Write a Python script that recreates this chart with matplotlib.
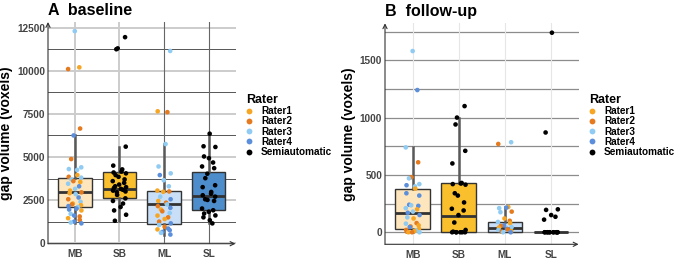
import numpy as np
import matplotlib
matplotlib.use("Agg")
import matplotlib.pyplot as plt
from matplotlib.lines import Line2D

plt.rcParams['font.family'] = ['Liberation Sans', 'DejaVu Sans']
plt.rcParams['font.weight'] = 'bold'

# ---- data ----
categories = ['MB', 'SB', 'ML', 'SL']
rater_names = ['Rater1', 'Rater2', 'Rater3', 'Rater4', 'Semiautomatic']
rater_colors = ['#F6A623', '#E57A1E', '#8FCBF2', '#5B8EDB', '#000000']

# baseline: values and rater index (0-3 raters, 4 semiautomatic)
base_mb_vals = [12300, 10200, 10100, 6650, 6250, 4880, 4400, 4300, 4250, 3950, 3850,
                3800, 3700, 3600, 3550, 3450, 3300, 3150, 3050, 2950, 2900, 2850,
                2650, 2550, 2400, 2300, 2250, 2200, 2150, 2100, 2000, 1950, 1900,
                1700, 1600, 1550, 1450, 1350, 1250, 1200, 1150]
base_mb_rater = [2, 0, 1, 1, 3, 1, 2, 2, 2, 0, 1,
                 2, 2, 1, 0, 2, 3, 2, 0, 1, 0, 2,
                 3, 1, 2, 0, 1, 0, 3, 2, 3, 3, 0,
                 2, 3, 1, 0, 1, 3, 2, 3]
base_sb_vals = [11950, 11300, 11250, 5600, 4500, 4280, 4150, 4100, 4050, 3950, 3850,
                3700, 3600, 3500, 3400, 3300, 3250, 3200, 3150, 3100, 3050, 3000,
                2950, 2800, 2600, 2450, 2300, 2100, 1900, 1650, 1300]
base_ml_vals = [11150, 7650, 7600, 5750, 4450, 4050, 3950, 3650, 3300, 3050, 3000,
                2980, 2700, 2550, 2450, 2350, 2250, 2150, 2050, 1950, 1850, 1750,
                1600, 1500, 1400, 1250, 1150, 1050, 950, 850, 800, 750, 650, 600, 500]
base_ml_rater = [2, 0, 1, 2, 2, 2, 3, 2, 2, 0, 1,
                 0, 2, 3, 0, 1, 2, 1, 3, 0, 1, 2,
                 0, 1, 0, 1, 3, 2, 1, 3, 0, 3, 3, 2, 3]
base_sl_vals = [6350, 5620, 5580, 5030, 4930, 4680, 4450, 4350, 4030, 3770, 3360,
                3250, 2970, 2870, 2780, 2700, 2550, 2510, 2450, 2010, 1910, 1820,
                1720, 1610, 1500, 1330, 1150]

# follow-up
fu_mb_vals = [1580, 1240, 740, 610, 480, 470, 420, 410, 400, 380, 340, 320, 240, 235,
              230, 210, 200, 180, 170, 150, 130, 120, 80, 75, 60, 50, 45, 30, 20, 15,
              10, 5, 0, 0, 0]
fu_mb_rater = [2, 3, 2, 1, 1, 2, 2, 3, 2, 0, 3, 3, 3, 2,
               3, 2, 0, 2, 3, 3, 2, 0, 1, 2, 0, 1, 3, 0, 1, 2,
               0, 1, 2, 0, 1]
fu_sb_vals = [1100, 1000, 940, 710, 600, 430, 425, 420, 415, 340, 320, 260, 205, 190,
              150, 85, 20, 5, 0, 0, 0, 0, 0, 0]
fu_ml_vals = [785, 770, 220, 215, 210, 180, 175, 120, 100, 90, 80, 60, 55, 45, 40, 30,
              25, 20, 10, 5, 0, 0]
fu_ml_rater = [2, 1, 0, 3, 2, 1, 2, 0, 1, 2, 0, 3, 1, 2, 0, 3,
               1, 2, 0, 1, 2, 3]
fu_sl_vals = [1740, 870, 200, 195, 150, 135, 110, 0, 0, 0, 0, 0, 0, 0, 0, 0, 0, 0, 0]

# box statistics: q1, median, q3, whisker low, whisker high
base_q1 = [2100, 2640, 1140, 1910]
base_med = [2970, 3120, 2260, 2720]
base_q3 = [3780, 4110, 3010, 4130]
base_lo = [1150, 1300, 460, 1150]
base_hi = [6250, 5600, 5730, 6350]

fu_q1 = [29, 0, 0, 0]
fu_med = [168, 142, 37, 0]
fu_q3 = [380, 427, 93, 5]
fu_lo = [0, 0, 0, 0]
fu_hi = [745, 1000, 220, 0]

box_colors = ['#FDE5BD', '#F9BF2C', '#C9DFF7', '#4D8DCB']


def jitter(n, k):
    i = np.arange(n)
    return 0.15 * np.sin(i * 2.39996 + k)


def panel(ax, groups, q1, med, q3, lo, hi, ylim, yticks, minor, title, grid_style):
    stats = []
    for i in range(4):
        stats.append(dict(q1=q1[i], med=med[i], q3=q3[i], whislo=lo[i], whishi=hi[i],
                          label=categories[i]))
    # grid
    maj_c, maj_w, min_c, min_w, vcols = grid_style
    for y in yticks:
        ax.axhline(y, color=maj_c, lw=maj_w, zorder=0)
    for y in minor:
        ax.axhline(y, color=min_c, lw=min_w, zorder=0)
    for i in range(4):
        ax.axvline(i + 1, color=vcols[i][0], lw=vcols[i][1], zorder=0)

    bp = ax.bxp(stats, positions=[1, 2, 3, 4], widths=0.75, showfliers=False,
                patch_artist=True, showcaps=False,
                boxprops=dict(edgecolor='#333333', lw=1.0),
                medianprops=dict(color='#333333', lw=2.0),
                whiskerprops=dict(color='#595959', lw=1.8))
    for patch, c in zip(bp['boxes'], box_colors):
        patch.set_facecolor(c)
        patch.set_zorder(2)

    for k, (vals, raters) in enumerate(groups):
        vals = np.asarray(vals)
        x = k + 1 + jitter(len(vals), k)
        cols = [rater_colors[r] for r in raters]
        ax.scatter(x, vals, s=11, c=cols, linewidths=0, zorder=3)

    ax.set_xlim(0.4, 4.6)
    ax.set_ylim(*ylim)
    ax.set_yticks(yticks)
    ax.set_yticklabels([str(t) for t in yticks])
    ax.set_xticks([1, 2, 3, 4])
    ax.set_xticklabels(categories)
    ax.tick_params(length=0, labelsize=7.2, colors='#444444', pad=2)
    ax.tick_params(axis='x', pad=4)
    for s in ax.spines.values():
        s.set_visible(False)
    arrow = dict(arrowstyle='->,head_length=0.3,head_width=0.15', color='#333333',
                 lw=0.8, shrinkA=0, shrinkB=0)
    ax.annotate('', xy=(0, 1), xytext=(0, 0), xycoords='axes fraction', arrowprops=arrow)
    ax.annotate('', xy=(1, 0), xytext=(0, 0), xycoords='axes fraction', arrowprops=arrow)
    ax.set_ylabel('gap volume (voxels)', fontsize=10, fontweight='bold', labelpad=3)
    ax.set_title(title, loc='left', fontsize=11.5, fontweight='bold', pad=5, x=0.0)


fig = plt.figure(figsize=(6.85, 2.74), dpi=100)
axA = fig.add_axes([48 / 685, 1 - 243.7 / 274, 187.5 / 685, 221.7 / 274])
axB = fig.add_axes([385 / 685, 1 - 244.3 / 274, 193.6 / 685, 221 / 274])

semiA = [4] * len(base_sb_vals)
semiA2 = [4] * len(base_sl_vals)
panel(axA,
      [(base_mb_vals, base_mb_rater), (base_sb_vals, semiA),
       (base_ml_vals, base_ml_rater), (base_sl_vals, semiA2)],
      base_q1, base_med, base_q3, base_lo, base_hi,
      (-30, 12830), [0, 2500, 5000, 7500, 10000, 12500],
      [1250, 3750, 6250, 8750, 11250], 'A  baseline',
      ('#C8C8C8', 1.3, '#555555', 0.7,
       [('#CCCCCC', 1.4), ('#CCCCCC', 1.4), ('#666666', 0.8), ('#666666', 0.8)]))

panel(axB,
      [(fu_mb_vals, fu_mb_rater), (fu_sb_vals, [4] * len(fu_sb_vals)),
       (fu_ml_vals, fu_ml_rater), (fu_sl_vals, [4] * len(fu_sl_vals))],
      fu_q1, fu_med, fu_q3, fu_lo, fu_hi,
      (-105, 1822), [0, 500, 1000, 1500],
      [250, 750, 1250, 1750], 'B  follow-up',
      ('#8C8C8C', 0.9, '#8C8C8C', 0.9,
       [('#E6E6E6', 0.8)] * 4))

handles = [Line2D([], [], ls='none', marker='o', ms=4.2, mec='none', mfc=c)
           for c in rater_colors]
for xpos in (246 / 685, 589 / 685):
    leg = fig.legend(handles, rater_names, loc='upper left',
                     bbox_to_anchor=(xpos, 1 - 94 / 274), frameon=False,
                     fontsize=7.2, title='Rater', title_fontsize=9,
                     labelspacing=0.02, handlelength=0.6, handletextpad=0.9,
                     borderpad=0, borderaxespad=0, alignment='left')
    leg.get_title().set_fontweight('bold')

fig.savefig('out.png', dpi=100)
